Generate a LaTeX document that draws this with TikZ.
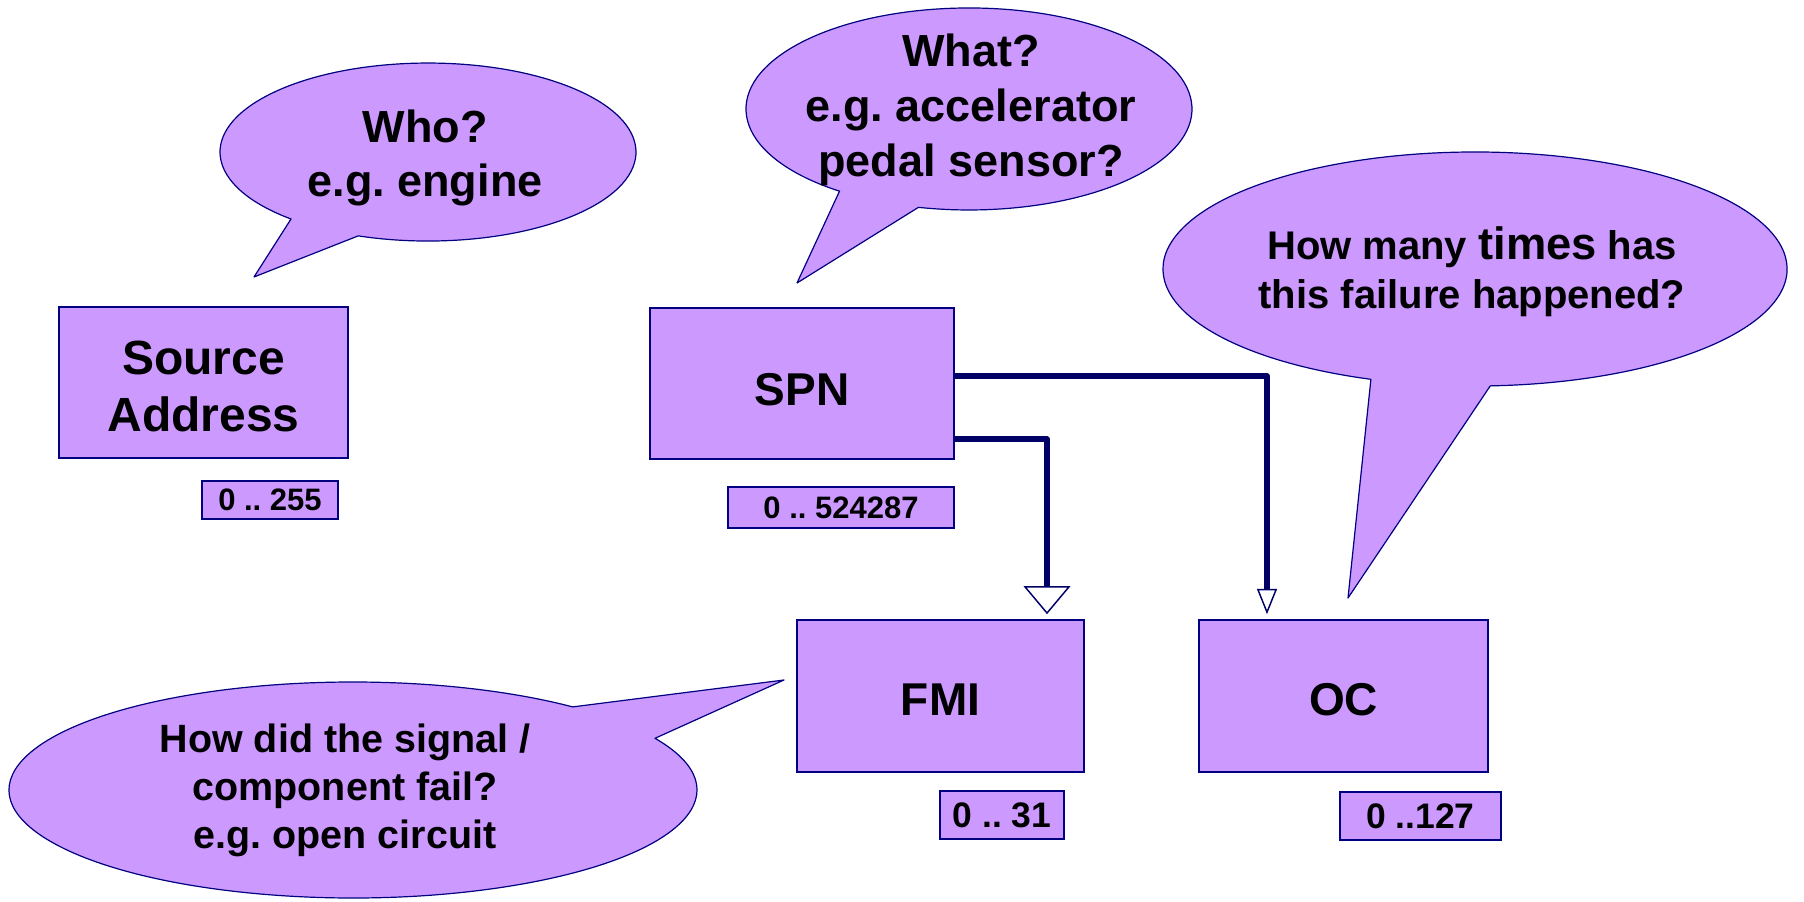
\documentclass[tikz,border=0pt]{standalone}
\usepackage{fontspec}
\setmainfont{Liberation Sans}
\frenchspacing
\usetikzlibrary{arrows.meta,calc}
\definecolor{lilac}{HTML}{CC99FF}
\definecolor{navy}{HTML}{000080}
\definecolor{wire}{HTML}{000066}
\tikzset{
  field/.style 2 args={draw=navy, fill=lilac, line width=1.2pt, inner sep=0pt,
    minimum width=#1, minimum height=#2, align=center,
    font=\bfseries\fontsize{34.5}{42.5}\selectfont},
  oneline/.style={text height=#1, text depth=0pt},
  range/.style 2 args={draw=navy, fill=lilac, line width=1.2pt, inner sep=0pt,
    minimum width=#1, minimum height=#2, align=center,
    font=\bfseries\fontsize{23.25}{28}\selectfont},
  bubble/.style={draw=navy, fill=lilac, line width=0.9pt, line join=round},
  bubtext/.style={align=center, inner sep=0pt},
  wire/.style={draw=wire, line width=3.8pt, line join=round},
  bigtip/.style={-{Triangle[width=35pt, length=21pt, fill=white, line width=1.1pt]}},
  smalltip/.style={-{Triangle[width=15pt, length=19pt, fill=white, line width=1.1pt]}}
}
\begin{document}
\begin{tikzpicture}[x=0.75pt,y=-0.75pt]
\useasboundingbox (0,0) rectangle (1804,902);

% speech bubbles: ellipse with a pointed tail
\draw[bubble] (291.0,219.0) arc[start angle=131.2, end angle=469.6, x radius=208, y radius=89] -- (254,277) -- cycle;
\draw[bubble] (839.5,191.2) arc[start angle=125.5, end angle=463.1, x radius=223, y radius=101] -- (797,283) -- cycle;
\draw[bubble] (1370.9,379.3) arc[start angle=109.5, end angle=447.2, x radius=312, y radius=117] -- (1348,598) -- cycle;
\draw[bubble] (655.0,738.3) arc[start angle=331.4, end angle=669.7, x radius=344, y radius=108] -- (784,680) -- cycle;

\node[bubtext, font=\bfseries\fontsize{33.75}{40.5}\selectfont] (who) at (425,158) {Who?\\e.g. engine};
\node[bubtext, font=\bfseries\fontsize{33.75}{41}\selectfont] (what) at (971,110) {What?\\e.g. accelerator\\pedal sensor?};
\node[bubtext, font=\bfseries\fontsize{30}{36.75}\selectfont] (howmany) at (1472,272)
  {How many {\fontsize{34}{36.75}\selectfont times} has\\this failure happened?};
\node[bubtext, font=\bfseries\fontsize{29.6}{36}\selectfont] (howfail) at (345,790)
  {How did the signal /\\component fail?\\e.g. open circuit};

% fields
\node[field={216.75pt}{113.25pt}, font=\bfseries\fontsize{36}{42.5}\selectfont,
      text height=73pt, text depth=0pt] (src) at (203.5,382.5) {Source\\Address};
\node[field={228pt}{113.25pt}, oneline=33pt] (spn) at (802,383.5) {SPN};
\node[field={215.25pt}{114pt}, oneline=29pt] (fmi) at (940.5,696) {FMI};
\node[field={216.75pt}{114pt}, oneline=29pt] (oc) at (1343.5,696) {OC};

% value ranges
\node[range={102pt}{28.5pt}] (srcrange) at (270,500) {0 .. 255};
\node[range={169.5pt}{30.75pt}] (spnrange) at (841,507.5) {0 .. 524287};
\node[range={93pt}{36pt}, font=\bfseries\fontsize{26.6}{30}\selectfont] (fmirange) at (1002,815) {0 .. 31};
\node[range={120.75pt}{36pt}, font=\bfseries\fontsize{26.6}{30}\selectfont] (ocrange) at (1420.5,816) {0 ..127};

% connectors
\draw[wire, smalltip] ($(spn.east)+(0,-7.5)$) -| ($(oc.north)+(-76.5,-5)$);
\draw[wire, bigtip] ($(spn.east)+(0,55.5)$) -| ($(fmi.north)+(106.5,-5)$);
\end{tikzpicture}
\end{document}
